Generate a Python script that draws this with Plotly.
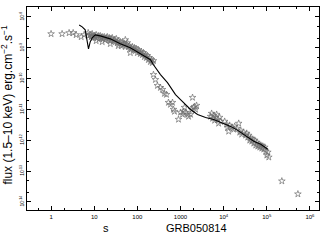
import plotly.graph_objects as go

# Observed fluxes (stars)
star_t = [1, 1.80, 2.62, 3.25, 3.81, 4.99, 5.85, 7.25, 8.98,
          7.25, 8.07, 8.51, 8.98, 9.48, 10.0, 10.55, 11.1, 11.7, 12.4, 13.1, 13.8, 14.5, 15.3,
          16.2, 17.1, 18.0, 19.0, 20.1, 21.2, 22.3, 23.6, 24.8, 26.2, 27.7, 29.2, 30.8, 32.5,
          34.3, 36.1, 38.1, 40.2, 42.5, 44.8, 47.3, 49.9, 52.6, 55.5, 58.6, 61.8, 65.2, 68.7,
          72.5, 76.5, 80.7, 85.2, 89.8, 94.8, 100, 105.5, 111, 117, 124, 131, 138, 145.5,
          153.5, 162, 171, 180, 190, 201, 212, 223, 236,
          11.1, 15.3, 23.6, 36.1, 68.7, 52.6,
          236, 262, 292, 343, 381, 425, 473, 526, 585, 652, 687, 725, 898, 1000, 1113, 1175,
          1239, 1307, 1455, 1535, 1709, 1803, 1901, 2006, 2116, 2233, 2356,
          4987, 5260, 5549, 5854, 6176, 6516, 6874, 7252, 7651, 8072, 8515, 10550, 11740,
          12390, 13070, 13790, 15350, 17090, 18030, 20060, 22330, 23560, 24850, 26220, 29180,
          32480, 34260, 36150, 38140, 40240, 42450, 44780, 47250, 49850, 52590, 55480, 58530,
          61750, 65160, 68720, 72500, 76500, 80700, 85150, 89830, 94780, 100000, 105500, 111300,
          223300, 526000]
star_flux = [2.83e-9, 2.83e-9, 3.05e-9, 3.05e-9, 2.63e-9, 2.26e-9, 2.63e-9, 3.05e-9, 2.83e-9,
             2.44e-9, 2.63e-9, 2.26e-9, 2.44e-9, 2.10e-9, 2.44e-9, 2.26e-9, 2.63e-9, 2.10e-9,
             2.44e-9, 1.95e-9, 2.44e-9, 2.10e-9, 2.26e-9, 1.95e-9, 2.26e-9, 1.81e-9, 2.10e-9,
             2.26e-9, 1.81e-9, 2.10e-9, 1.68e-9, 1.95e-9, 2.10e-9, 1.68e-9, 1.81e-9, 1.56e-9,
             1.95e-9, 1.45e-9, 1.68e-9, 1.35e-9, 1.56e-9, 1.16e-9, 1.45e-9, 1.25e-9, 1.35e-9,
             1.08e-9, 1.25e-9, 1.45e-9, 1.08e-9, 1.16e-9, 1.0e-9, 9.28e-10, 1.08e-9, 8.62e-10,
             1.0e-9, 8.0e-10, 9.28e-10, 6.90e-10, 8.62e-10, 7.43e-10, 6.41e-10, 7.43e-10,
             5.94e-10, 6.90e-10, 5.12e-10, 5.94e-10, 4.76e-10, 5.52e-10, 4.10e-10, 4.76e-10,
             3.54e-10, 4.10e-10, 3.28e-10, 3.81e-10,
             1.68e-9, 1.56e-9, 1.35e-9, 1.16e-9, 6.90e-10, 1.81e-9,
             1.35e-10, 9.28e-11, 5.94e-11, 5.12e-11, 4.42e-11, 3.28e-11, 3.05e-11, 1.68e-11,
             1.45e-11, 1.68e-11, 1.0e-11, 8.62e-12, 4.76e-12, 8.0e-12, 6.90e-12, 8.62e-12,
             1.16e-11, 8.0e-12, 6.90e-12, 5.94e-12, 6.90e-12, 1.0e-11, 2.44e-11, 1.16e-11,
             1.25e-11, 1.0e-11, 1.35e-11,
             5.94e-12, 7.43e-12, 5.12e-12, 6.41e-12, 4.42e-12, 5.52e-12, 6.90e-12, 4.76e-12,
             3.54e-12, 5.52e-12, 4.10e-12, 4.10e-12, 3.28e-12, 2.63e-12, 1.95e-12, 3.05e-12,
             2.63e-12, 2.26e-12, 2.83e-12, 2.44e-12, 3.54e-12, 1.81e-12, 2.10e-12, 1.56e-12,
             1.81e-12, 1.45e-12, 1.68e-12, 1.25e-12, 1.45e-12, 1.0e-12, 1.16e-12, 9.28e-13,
             1.08e-12, 8.0e-13, 1.0e-12, 6.90e-13, 8.62e-13, 6.41e-13, 7.43e-13, 5.94e-13,
             6.90e-13, 5.52e-13, 6.41e-13, 5.12e-13, 5.94e-13, 4.42e-13, 3.28e-13, 4.10e-13,
             2.83e-13, 4.76e-14, 1.81e-14]

# Model curve
model_t = [4.48, 5.26, 6.18, 6.87, 7.37, 8.07, 8.98, 10.55, 13.8, 23.6, 40.2, 68.7, 117, 201,
           236, 343, 499, 765, 1000, 1455, 1709, 2485, 3814, 5854, 8515, 14550, 21170, 32480,
           49850, 72500, 105500]
model_flux = [5.52e-9, 4.76e-9, 3.81e-9, 1.81e-9, 9.28e-10, 1.56e-9, 2.10e-9, 2.63e-9, 2.44e-9,
              1.95e-9, 1.35e-9, 1.0e-9, 6.41e-10, 4.10e-10, 2.83e-10, 1.35e-10, 7.43e-11,
              3.05e-11, 2.10e-11, 1.25e-11, 1.0e-11, 6.90e-12, 5.52e-12, 4.76e-12, 3.81e-12,
              2.83e-12, 2.10e-12, 1.35e-12, 9.28e-13, 7.43e-13, 5.12e-13]

x_tickvals = [1, 10, 100, 1000, 1e4, 1e5, 1e6]
x_ticktext = ["1", "10", "100", "1000", "10<sup>4</sup>", "10<sup>5</sup>", "10<sup>6</sup>"]
y_tickvals = [1e-8, 1e-9, 1e-10, 1e-11, 1e-12, 1e-13, 1e-14]
y_ticktext = ["10<sup>-8</sup>", "10<sup>-9</sup>", "10<sup>-10</sup>", "10<sup>-11</sup>",
              "10<sup>-12</sup>", "10<sup>-13</sup>", "10<sup>-14</sup>"]

FONT = "Liberation Sans, Arial, sans-serif"

fig = go.Figure()
fig.add_trace(go.Scatter(x=star_t, y=star_flux, mode="markers",
                         marker=dict(symbol="star-open", size=5, color="#707070",
                                     line=dict(width=0.7, color="#707070")),
                         showlegend=False))
fig.add_trace(go.Scatter(x=model_t, y=model_flux, mode="lines",
                         line=dict(color="black", width=1.1), showlegend=False))

axis_common = dict(showline=True, linecolor="black", linewidth=1, mirror="ticks",
                   ticks="inside", ticklen=4, tickcolor="black", showgrid=False,
                   zeroline=False, automargin=False,
                   minor=dict(ticks="inside", ticklen=2, tickcolor="black", showgrid=False))

fig.update_xaxes(type="log", range=[-0.558, 6.21], tickvals=x_tickvals, ticktext=x_ticktext,
                 tickfont=dict(size=6, family=FONT, color="black"), ticklabelstandoff=1,
                 **axis_common)
fig.update_yaxes(type="log", range=[-14.26, -7.677], tickvals=y_tickvals, ticktext=y_ticktext,
                 tickangle=-90, tickfont=dict(size=5, family=FONT, color="black"),
                 ticklabelstandoff=0, **axis_common)

fig.add_annotation(text="flux (1.5–10 keV) erg.cm<sup>−2</sup>.s<sup>−1</sup>",
                   xref="paper", yref="paper", x=-0.068, y=0.52, textangle=-90,
                   showarrow=False, font=dict(size=12, family=FONT, color="black"),
                   xanchor="center", yanchor="middle")
fig.add_annotation(text="s", xref="paper", yref="paper", x=0.27, y=-0.09,
                   showarrow=False, font=dict(size=11, family=FONT, color="black"),
                   xanchor="center", yanchor="middle")
fig.add_annotation(text="GRB050814", xref="paper", yref="paper", x=0.58, y=-0.09,
                   showarrow=False, font=dict(size=11, family=FONT, color="black"),
                   xanchor="center", yanchor="middle")

fig.update_layout(width=327, height=240, margin=dict(l=27, r=8, t=7, b=30, autoexpand=False),
                  paper_bgcolor="white", plot_bgcolor="white")

fig.write_html("out.html", config={"displayModeBar": False},
               post_script="document.body.style.margin='0';document.body.style.overflow='hidden';")
